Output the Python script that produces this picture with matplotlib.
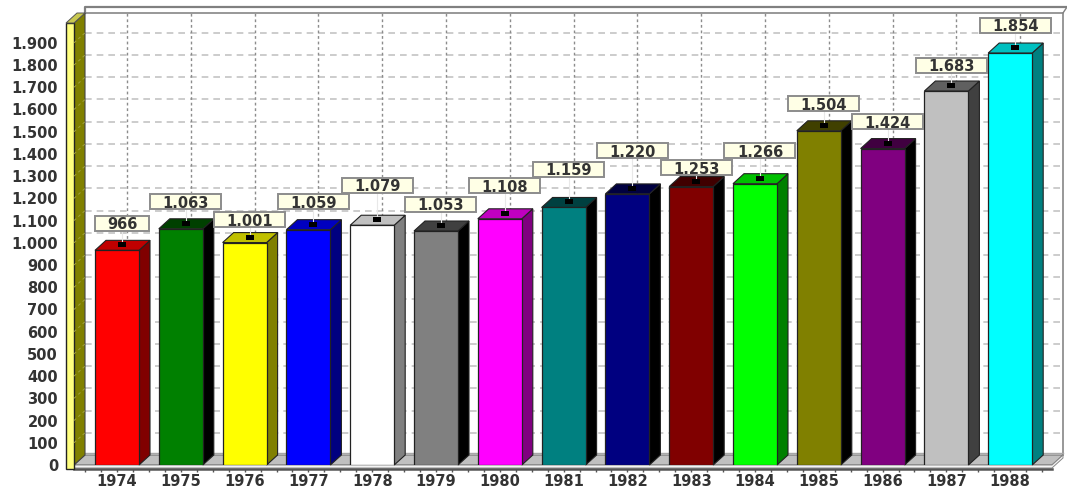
#!/usr/bin/env python3
"""Yearly bars 1974-1988 in the old fake-3D chart style."""
import matplotlib
matplotlib.use("Agg")
import matplotlib.pyplot as plt
from matplotlib.patches import Polygon, Rectangle
from matplotlib.ticker import MultipleLocator

years = [1974, 1975, 1976, 1977, 1978, 1979, 1980, 1981, 1982, 1983, 1984, 1985, 1986, 1987, 1988]
values = [966, 1063, 1001, 1059, 1079, 1053, 1108, 1159, 1220, 1253, 1266, 1504, 1424, 1683, 1854]
front_colors = ["#ff0000", "#008000", "#ffff00", "#0000ff", "#ffffff", "#808080", "#ff00ff", "#008080",
                "#000080", "#800000", "#00ff00", "#808000", "#800080", "#c0c0c0", "#00ffff"]
top_colors = ["#c00000", "#004000", "#c0c000", "#0000c0", "#c0c0c0", "#404040", "#c000c0", "#004040",
              "#000040", "#400000", "#00c000", "#404000", "#400040", "#606060", "#00c0c0"]
side_colors = ["#800000", "#000000", "#808000", "#000080", "#808080", "#000000", "#800080", "#000000",
               "#000000", "#000000", "#008000", "#000000", "#000000", "#404040", "#008080"]
value_ticks = list(range(0, 2000, 100))

# label lift above the bar's back edge, in pixels (labels are staggered in the original)
label_lift = [17, 17, 13, 18, 30, 17, 23, 28, 33, 9, 23, 17, 17, 16, 18]

PX_X = 1 / 63.8        # one pixel in category units
PX_Y = 100 / 22.22     # one pixel in value units
DEPTH_X = 11 * PX_X
DEPTH_Y = 10 * PX_Y
BAR_W = 44 * PX_X
TEXT = "#333333"
EDGE = "#222222"
FONT = dict(fontsize=10.5, fontweight="bold", color=TEXT)

plt.rcParams["font.family"] = ["DejaVu Sans"]
W, H = 1067, 493
fig = plt.figure(figsize=(W / 100, H / 100), dpi=100, facecolor="white")
ax = fig.add_axes([74 / W, (H - 465) / H, 978 / W, 442 / H])
x0, x1 = -43 * PX_X, 935 * PX_X
ax.set_xlim(x0, x1)
ax.set_ylim(0, 442 * PX_Y)


def poly(points, fc, ec="none", lw=0.0, z=1):
    ax.add_patch(Polygon(points, closed=True, fc=fc, ec=ec, lw=lw, zorder=z, clip_on=False))


# back wall grid
ytop = ax.get_ylim()[1]
frame_top = ytop + DEPTH_Y
outer_top = frame_top + 6 * PX_Y
ax.hlines([v + DEPTH_Y for v in value_ticks[1:]], x0 + DEPTH_X, x1 + DEPTH_X, colors="#c4c4c4", lw=1.2,
          linestyles=(0, (4, 3)), zorder=1, clip_on=False)
ax.vlines([i + 10 * PX_X for i in range(len(years))], DEPTH_Y, frame_top, colors="#8c8c8c", lw=1.0,
          linestyles=(0, (2, 2)), zorder=1, clip_on=False)

# outer frame of the back wall
ax.plot([x0 + DEPTH_X, x1 + DEPTH_X, x1 + DEPTH_X], [frame_top, frame_top, DEPTH_Y], color="#909090", lw=1.3,
        zorder=2, clip_on=False)
ax.plot([x0 + DEPTH_X, x0 + DEPTH_X, x1 + 15 * PX_X], [frame_top, outer_top, outer_top], color="#808080", lw=1.6,
        zorder=2, clip_on=False)
ax.plot([x1 + DEPTH_X, x1 + 15 * PX_X], [frame_top, outer_top], color="#808080", lw=1.0, zorder=2, clip_on=False)

# floor
poly([(x0, 0), (x0 + DEPTH_X, DEPTH_Y), (x1 + DEPTH_X, DEPTH_Y), (x1, 0)], "#c0c0c0", "#666666", 0.7, z=2)
poly([(x0, 0), (x1, 0), (x1 + DEPTH_X, DEPTH_Y), (x1 + DEPTH_X, DEPTH_Y - 3 * PX_Y), (x1, -3 * PX_Y), (x0, -3 * PX_Y)],
     "#f4f4f4", "#888888", 0.7, z=2)
ax.plot([x0 + DEPTH_X, x1 + DEPTH_X], [DEPTH_Y + 2 * PX_Y] * 2, color="#a8a8a8", lw=1.0, zorder=2, clip_on=False)

# left wall
wall_w = 8 * PX_X
poly([(x0, 0), (x0 + DEPTH_X, DEPTH_Y), (x0 + DEPTH_X, frame_top), (x0, ytop)], "#808000", "#444444", 0.8, z=2)
ax.add_patch(Rectangle((x0 - wall_w, -4 * PX_Y), wall_w, ytop + 4 * PX_Y, fc="#ffff80", ec="#222222", lw=1.0,
                       zorder=3, clip_on=False))
poly([(x0 - wall_w, ytop), (x0, ytop), (x0 + DEPTH_X, frame_top), (x0 + DEPTH_X - wall_w, frame_top)],
     "#c8c850", "#555555", 0.7, z=3)
for v in value_ticks[1:]:
    ax.plot([x0, x0 + DEPTH_X], [v, v + DEPTH_Y], color="#a0a040", lw=0.7, ls=(0, (3, 3)), zorder=3)

# bars, back sides first so each front face sits on top
xs = list(range(len(years)))
for i, v in zip(xs, values):
    l, r = i - BAR_W / 2, i + BAR_W / 2
    poly([(r, 0), (r + DEPTH_X, DEPTH_Y), (r + DEPTH_X, v + DEPTH_Y), (r, v)], side_colors[i], EDGE, 0.8, z=4)
    poly([(l, v), (r, v), (r + DEPTH_X, v + DEPTH_Y), (l + DEPTH_X, v + DEPTH_Y)], top_colors[i], EDGE, 0.8, z=4)
ax.bar(xs, values, width=BAR_W, color=front_colors, edgecolor=EDGE, linewidth=0.9, zorder=5)

# value labels: leader, black marker, boxed number
for i, v in zip(xs, values):
    cx = i + 5 * PX_X
    back = v + DEPTH_Y
    cy = back + label_lift[i] * PX_Y
    txt = f"{v:,}".replace(",", ".")
    box_w = (71 if v >= 1000 else 54) * PX_X
    box_h = 15 * PX_Y
    ax.plot([cx, cx], [v + 5 * PX_Y, cy], color="#e8e8e8", lw=0.8, zorder=6 + i)
    ax.add_patch(Rectangle((cx - 4 * PX_X, v + 3 * PX_Y), 8 * PX_X, 5 * PX_Y, fc="black", ec="none", zorder=6 + i))
    ax.add_patch(Rectangle((cx - box_w / 2, cy - box_h / 2), box_w, box_h, fc="#ffffe6", ec="#8c8c8c", lw=1.4,
                           zorder=6 + i, clip_on=False))
    ax.text(cx, cy, txt, ha="center", va="center_baseline", zorder=6 + i, **FONT)

# axes: spine pushed out so it sits under the floor strip
for side in ("top", "right", "left"):
    ax.spines[side].set_visible(False)
ax.spines["bottom"].set_position(("outward", 2.9))
ax.spines["bottom"].set_linewidth(1.8)
ax.spines["bottom"].set_color("#555555")
ax.patch.set_visible(False)

ax.set_yticks(value_ticks)
ax.set_yticklabels([f"{v:,}".replace(",", ".") for v in value_ticks], **FONT)
ax.tick_params(axis="y", length=0, pad=11.5)
ax.set_xticks(xs)
ax.set_xticklabels([str(y) for y in years], **FONT)
ax.xaxis.set_minor_locator(MultipleLocator(0.25))
ax.tick_params(axis="x", which="both", length=2.2, width=1.0, color="#555555", pad=1.5)

fig.savefig("out.png", dpi=100)
